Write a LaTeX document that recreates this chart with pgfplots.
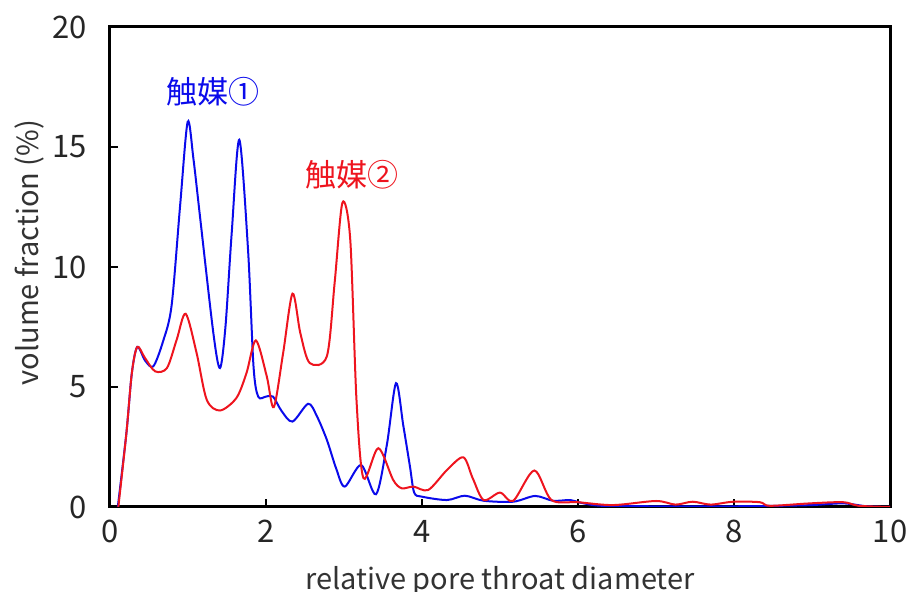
\documentclass[border=0pt]{standalone}
\usepackage{pgfplots}
\pgfplotsset{compat=1.18}
\usepackage{fontspec}
\setmainfont{Noto Sans CJK JP}
\definecolor{cblue}{RGB}{10,10,235}
\definecolor{cred}{RGB}{238,20,30}
\begin{document}
\begin{tikzpicture}
\begin{axis}[
  at={(0,0)}, anchor=south west,
  scale only axis, width=390pt, height=240pt,
  xmin=0, xmax=10, ymin=0, ymax=20,
  xtick={0,2,4,6,8,10}, ytick={0,5,10,15,20},
  xtick pos=bottom, ytick pos=left,
  tick align=inside, major tick length=4pt,
  tick style={line width=1.2pt, black},
  axis line style={line width=1.5pt},
  /pgf/number format/assume math mode=true,
  ticklabel style={font=\fontsize{15.5}{17}\selectfont, text=black!85},
  xticklabel style={yshift=-3pt},
  yticklabel style={xshift=-8pt},
  every axis x label/.style={at={(axis description cs:0.5,0)}, anchor=base, yshift=-41.5pt},
  every axis y label/.style={at={(axis description cs:-0.1026,0.53)}, anchor=center, rotate=90},
  label style={font=\fontsize{14.5}{16}\selectfont, text=black!80},
  xlabel={relative pore throat diameter},
  ylabel={volume fraction (\%)},
  clip=true,
]
\addplot[cblue, line width=1pt, smooth, tension=0.5] coordinates {
(0.1,0) (0.21,3.07) (0.28,5.58) (0.35,6.67) (0.45,6.1) (0.555,5.86) (0.68,6.9)
(0.79,8.4) (0.9,12.6) (0.996,16.05) (1.07,14.5) (1.154,12.1) (1.325,7.25)
(1.41,5.79) (1.48,7.5) (1.56,11.4) (1.658,15.3) (1.77,10.7) (1.84,5.86)
(1.90,4.6) (2.0,4.6) (2.09,4.6) (2.2,4.0) (2.34,3.56) (2.54,4.3) (2.65,3.8)
(2.78,2.8) (2.9,1.6) (3.01,0.85) (3.22,1.75) (3.41,0.53) (3.55,2.6) (3.667,5.16)
(3.76,3.4) (3.846,1.68) (3.9,0.6) (4.0,0.43) (4.32,0.29) (4.55,0.47) (4.79,0.26)
(5.17,0.22) (5.45,0.46) (5.68,0.26) (5.9,0.29) (6.03,0.18) (6.3,0.05) (7,0.03)
(8,0.03) (8.6,0.05) (9.0,0.08) (9.4,0.15) (9.7,0.03) (10,0)
};
\addplot[cred, line width=1pt, smooth, tension=0.5] coordinates {
(0.107,0) (0.21,3.07) (0.28,5.58) (0.35,6.67) (0.45,6.2) (0.58,5.65) (0.73,5.79)
(0.855,6.97) (0.97,8.05) (1.11,6.42) (1.24,4.47) (1.41,4.02) (1.62,4.54)
(1.75,5.58) (1.87,6.94) (2.01,5.44) (2.10,4.16) (2.22,6.42) (2.34,8.89)
(2.44,7.25) (2.56,6.0) (2.78,6.28) (2.88,9.34) (2.98,12.68) (3.08,11.15)
(3.16,4.47) (3.25,1.2) (3.44,2.45) (3.63,1.13) (3.74,0.78) (3.89,0.85)
(4.08,0.71) (4.32,1.54) (4.53,2.07) (4.65,1.2) (4.79,0.29) (5.0,0.6) (5.17,0.26)
(5.44,1.52) (5.66,0.29) (6.0,0.2) (6.45,0.08) (7.0,0.25) (7.25,0.1) (7.47,0.22)
(7.7,0.1) (7.99,0.22) (8.33,0.2) (8.46,0.05) (8.97,0.15) (9.4,0.2) (9.6,0.05) (10,0)
};
\node[text=cblue, font=\fontsize{15.5}{17}\selectfont] at (axis cs:1.32,17.3) {触媒①};
\node[text=cred, font=\fontsize{15.5}{17}\selectfont] at (axis cs:3.10,13.86) {触媒②};
\end{axis}
\pgfresetboundingbox
\useasboundingbox (-55pt,-42.5pt) rectangle (400.5pt,253.5pt);
\end{tikzpicture}
\end{document}
